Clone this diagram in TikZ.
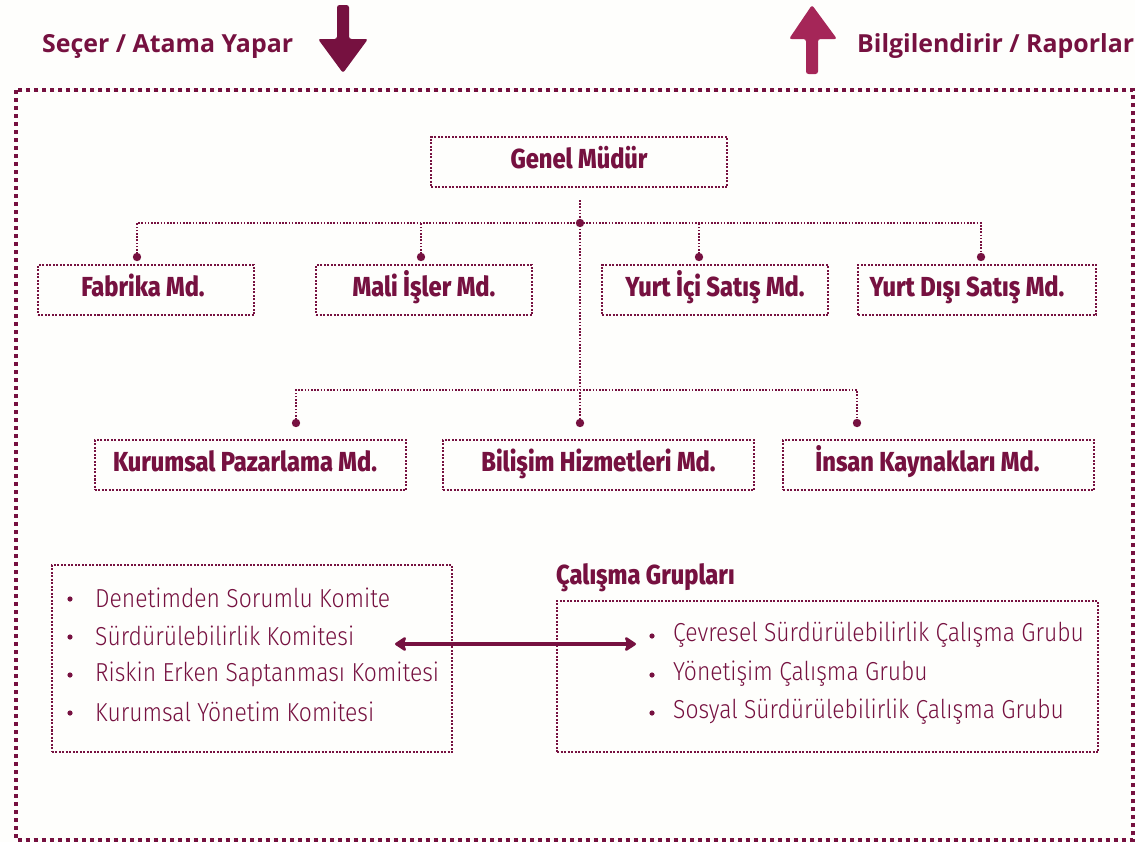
\documentclass[tikz,border=0pt]{standalone}
\usepackage{fontspec}
\setmainfont{Fira Sans}
\newfontfamily\topfont{Open Sans}
\newfontfamily\boxfont{Fira Sans}[FakeStretch=0.86, BoldFont={* ExtraBold}]
\newfontfamily\itemfont{Fira Sans Light}[FakeStretch=0.88]
\usetikzlibrary{arrows.meta}
\definecolor{mar}{RGB}{118,17,64}
\definecolor{marlight}{RGB}{165,38,88}
\definecolor{bg}{RGB}{254,254,252}
\tikzset{
  orgbox/.style={draw=mar, line width=2bp, dash pattern=on 2bp off 1.5bp, minimum height=50bp, inner sep=0pt, text height=20bp, text depth=8bp, text=mar, font=\boxfont\bfseries\fontsize{27.5bp}{30bp}\selectfont},
  listbox/.style={draw=mar, line width=2bp, dash pattern=on 2bp off 1.5bp, inner sep=0pt},
  conn/.style={draw=mar, line width=1.6bp, dash pattern=on 1.6bp off 1.6bp},
  item/.style={anchor=west, inner sep=0pt, text=mar, font=\itemfont\fontsize{26bp}{30bp}\selectfont},
  toplabel/.style={anchor=west, inner sep=0pt, text=mar, font=\topfont\bfseries\fontsize{24.9bp}{28bp}\selectfont},
  jdot/.style={fill=mar},
}
\begin{document}
\begin{tikzpicture}[x=1bp,y=-1bp]
\fill[bg] (0,0) rectangle (1135,842);
\useasboundingbox (0,0) rectangle (1135,842);
% outer frame
\draw[mar, line width=4bp, dash pattern=on 4bp off 4bp] (15.5,90) rectangle (1133,840);
% top labels and arrows
\node[toplabel] (sel) at (42,46) {Seçer / Atama Yapar};
\node[toplabel] (bil) at (857,46) {Bilgilendirir / Raporlar};
\fill[mar, rounded corners=2.5bp] (337,5) -- (349,5) -- (349,39) -- (368,39) -- (343,73) -- (318,39) -- (337,39) -- cycle;
\fill[marlight, rounded corners=2.5bp] (806,74) -- (818,74) -- (818,39) -- (837,39) -- (812,5) -- (789,39) -- (806,39) -- cycle;
% org boxes
\node[orgbox, minimum width=296bp] (gm) at (579,162) {Genel Müdür};
\node[orgbox, minimum width=216bp] (fab) at (146,290) {\hspace*{-6bp}Fabrika Md.};
\node[orgbox, minimum width=216bp] (mali) at (424,290) {Mali İşler Md.};
\node[orgbox, minimum width=226bp] (yi) at (715,290) {Yurt İçi Satış Md.};
\node[orgbox, minimum width=238bp] (yd) at (977,290) {\hspace*{-20bp}Yurt Dışı Satış Md.};
\node[orgbox, minimum width=311bp] (kp) at (250.5,465) {\hspace*{-11bp}Kurumsal Pazarlama Md.};
\node[orgbox, minimum width=311bp] (bh) at (598.5,465) {Bilişim Hizmetleri Md.};
\node[orgbox, minimum width=311bp] (ik) at (938.5,465) {\hspace*{-22bp}İnsan Kaynakları Md.};
% connector coordinates
\coordinate (top) at (580,200);
\coordinate (j1) at (580,223);
\coordinate (j2) at (580,390);
\coordinate (dfab) at (137,257);
\coordinate (dmali) at (421,257);
\coordinate (dyi) at (699,257);
\coordinate (dyd) at (981,257);
\coordinate (dkp) at (296,423);
\coordinate (dbh) at (580,423);
\coordinate (dik) at (857,423);
\draw[conn] (top) -- (dbh);
\draw[conn] (dfab) |- (j1) -| (dyd);
\draw[conn] (dmali) -- (dmali |- j1);
\draw[conn] (dyi) -- (dyi |- j1);
\draw[conn] (dkp) |- (j2) -| (dik);
\foreach \p in {j1,dfab,dmali,dyi,dyd,dkp,dbh,dik} \fill[jdot] (\p) circle (4.2bp);
% committees box
\node[listbox, minimum width=400bp, minimum height=187bp] (kom) at (252,658.5) {};
\foreach \y/\t [count=\i] in {598/Denetimden Sorumlu Komite,636/Sürdürülebilirlik Komitesi,674/Riskin Erken Saptanması Komitesi,712/Kurumsal Yönetim Komitesi}{
  \fill[mar] (70,\y+1) circle (2.6bp);
  \node[item] (k\i) at (95,\y) {\t};
}
% working groups
\node[anchor=west, inner sep=0pt, text=mar, font=\boxfont\bfseries\fontsize{27.5bp}{30bp}\selectfont] (cg) at (556,578) {Çalışma Grupları};
\node[listbox, minimum width=541bp, minimum height=151bp] (wg) at (827.5,676.5) {};
\foreach \y/\t [count=\i] in {635/Çevresel Sürdürülebilirlik Çalışma Grubu,674/Yönetişim Çalışma Grubu,712/Sosyal Sürdürülebilirlik Çalışma Grubu}{
  \fill[mar] (652,\y+1) circle (2.6bp);
  \node[item] (w\i) at (673,\y) {\t};
}
% double arrow
\coordinate (a1) at (395,644);
\coordinate (a2) at (636,644);
\draw[mar, line width=4bp, {Stealth[length=13bp,width=17bp,inset=3bp,round]}-{Stealth[length=13bp,width=17bp,inset=3bp,round]}] (a1) -- (a2);
\end{tikzpicture}
\end{document}
